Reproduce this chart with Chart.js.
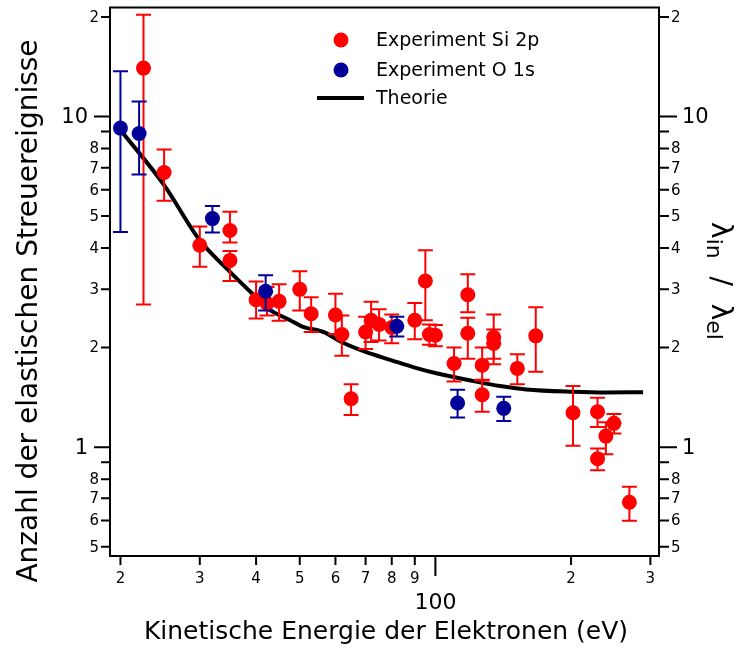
<!DOCTYPE html>
<html><head><meta charset="utf-8">
<script src="https://cdn.jsdelivr.net/npm/chart.js@4.4.1/dist/chart.umd.min.js"></script>
<style>html,body{margin:0;padding:0;background:#fff;} canvas{display:block;}</style>
</head><body>
<canvas id="c" width="740" height="648"></canvas>
<script>
// ---- Data ----
const siEnergy  = [22.5, 25, 30, 35, 35, 40, 42.3, 45, 50, 53, 60, 62, 65, 70, 72, 75, 80, 90, 95, 97, 100, 110, 118, 118, 127, 127, 134.7, 134.7, 152, 167, 202, 229, 229, 239, 249, 269.5];
const siValue   = [14.0, 6.77, 4.08, 4.52, 3.67, 2.79, 2.72, 2.76, 3.00, 2.53, 2.51, 2.19, 1.40, 2.23, 2.42, 2.35, 2.30, 2.42, 3.18, 2.19, 2.18, 1.79, 2.89, 2.21, 1.77, 1.44, 2.15, 2.06, 1.73, 2.17, 1.27, 1.28, 0.922, 1.08, 1.18, 0.681];
const siErrLow  = [2.70, 5.56, 3.51, 4.16, 3.18, 2.45, 2.50, 2.41, 2.59, 2.23, 2.20, 1.89, 1.25, 1.98, 2.08, 2.10, 2.06, 2.12, 2.42, 2.04, 2.02, 1.58, 2.56, 1.85, 1.59, 1.28, 1.85, 1.78, 1.55, 1.69, 1.01, 1.15, 0.852, 0.952, 1.10, 0.599];
const siErrHigh = [20.3, 7.95, 4.65, 5.15, 3.92, 3.17, 3.05, 3.11, 3.40, 2.84, 2.91, 2.50, 1.55, 2.48, 2.75, 2.61, 2.52, 2.73, 3.94, 2.35, 2.34, 2.00, 3.33, 2.46, 2.00, 1.60, 2.52, 2.27, 1.91, 2.65, 1.53, 1.41, 0.99, 1.19, 1.26, 0.759];

const oEnergy  = [20.0, 22.0, 32.0, 42.0, 82.1, 112, 141.8];
const oValue   = [9.22, 8.88, 4.91, 2.96, 2.32, 1.36, 1.31];
const oErrLow  = [4.47, 6.68, 4.46, 2.59, 2.16, 1.23, 1.20];
const oErrHigh = [13.7, 11.1, 5.36, 3.31, 2.48, 1.49, 1.42];

const theoryEnergy = [20, 25, 30, 35, 40, 42.6, 47.6, 50.5, 56.9, 61.4, 70, 80, 90, 101, 121, 139, 159, 202, 239, 289];
const theoryValue  = [9.1, 6.2, 4.22, 3.39, 2.84, 2.62, 2.42, 2.32, 2.22, 2.09, 1.94, 1.83, 1.74, 1.67, 1.586, 1.53, 1.494, 1.47, 1.463, 1.466];

const xTickValues = [20, 30, 40, 50, 60, 70, 80, 90, 100, 200, 300];
const xTickLabels = ['2', '3', '4', '5', '6', '7', '8', '9', '100', '2', '3'];
const xMajor = [100];
const yTickValues = [0.5, 0.6, 0.7, 0.8, 0.9, 1, 2, 3, 4, 5, 6, 7, 8, 9, 10, 20];
const yTickLabels = ['5', '6', '7', '8', '', '1', '2', '3', '4', '5', '6', '7', '8', '', '10', '2'];
const yMajor = [1, 10];

const legendLabels = ['Experiment Si 2p', 'Experiment O 1s', 'Theorie'];
const xTitle = 'Kinetische Energie der Elektronen (eV)';
const yTitle = 'Anzahl der elastischen Streuereignisse';

const FONT = '"DejaVu Sans", Verdana, sans-serif';
const RED = '#ff0000';
const BLUE = '#000099';

function pts(xs, ys) { return xs.map((x, i) => ({ x: x, y: ys[i] })); }

const errorBars = {
  id: 'errorBars',
  beforeDatasetDraw(chart, args) {
    const ds = chart.data.datasets[args.index];
    if (!ds.errLow) return;
    const ctx = chart.ctx, xs = chart.scales.x, ys = chart.scales.y;
    ctx.save();
    ctx.strokeStyle = ds.backgroundColor;
    ctx.lineWidth = 2;
    const cap = 7.5;
    ds.data.forEach((p, i) => {
      const px = xs.getPixelForValue(p.x);
      const y1 = ys.getPixelForValue(ds.errLow[i]);
      const y2 = ys.getPixelForValue(ds.errHigh[i]);
      ctx.beginPath();
      ctx.moveTo(px, y1); ctx.lineTo(px, y2);
      ctx.moveTo(px - cap, y1); ctx.lineTo(px + cap, y1);
      ctx.moveTo(px - cap, y2); ctx.lineTo(px + cap, y2);
      ctx.stroke();
    });
    ctx.restore();
  }
};

const axesDeco = {
  id: 'axesDeco',
  afterDraw(chart) {
    const ctx = chart.ctx, a = chart.chartArea, xs = chart.scales.x, ys = chart.scales.y;
    ctx.save();
    ctx.strokeStyle = '#000';
    ctx.fillStyle = '#000';
    ctx.lineWidth = 2;
    ctx.strokeRect(a.left, a.top, a.right - a.left, a.bottom - a.top);

    // Y ticks, both sides
    yTickValues.forEach((v, i) => {
      const py = ys.getPixelForValue(v);
      const major = yMajor.includes(v);
      const lenL = major ? 16 : 9, lenR = major ? 18 : 10;
      ctx.beginPath();
      ctx.moveTo(a.left - lenL, py); ctx.lineTo(a.left, py);
      ctx.moveTo(a.right, py); ctx.lineTo(a.right + lenR, py);
      ctx.stroke();
      const lab = yTickLabels[i];
      if (!lab) return;
      ctx.font = (major ? 21 : 15) + 'px ' + FONT;
      ctx.textBaseline = 'middle';
      ctx.textAlign = 'right';
      ctx.fillText(lab, a.left - lenL - (major ? 6 : 2), py + 1);
      ctx.textAlign = 'left';
      ctx.fillText(lab, a.right + lenR + (major ? 5 : 2), py + 1);
    });

    // X ticks
    xTickValues.forEach((v, i) => {
      const px = xs.getPixelForValue(v);
      const major = xMajor.includes(v);
      const len = major ? 20 : 9;
      ctx.beginPath();
      ctx.moveTo(px, a.bottom); ctx.lineTo(px, a.bottom + len);
      ctx.stroke();
      ctx.font = (major ? 22 : 15) + 'px ' + FONT;
      ctx.textAlign = 'center';
      ctx.textBaseline = 'middle';
      ctx.fillText(xTickLabels[i], px, major ? a.bottom + 47 : a.bottom + 23);
    });

    // Axis titles
    ctx.font = '25px ' + FONT;
    ctx.textAlign = 'center';
    ctx.textBaseline = 'middle';
    ctx.fillText(xTitle, 386, 632);

    ctx.save();
    ctx.translate(30, 311);
    ctx.rotate(-Math.PI / 2);
    ctx.font = '28px ' + FONT;
    ctx.fillText(yTitle, 0, 0);
    ctx.restore();

    // Right title: lambda_in / lambda_el (rotated clockwise)
    ctx.save();
    ctx.translate(722, 281);
    ctx.rotate(Math.PI / 2);
    const parts = [['λ', 28, 0], ['in', 22, 5], ['  /  ', 28, 0], ['λ', 28, 0], ['el', 22, 5]];
    let total = 0;
    parts.forEach(p => { ctx.font = p[1] + 'px ' + FONT; total += ctx.measureText(p[0]).width; });
    let cx = -total / 2;
    ctx.textAlign = 'left';
    ctx.textBaseline = 'alphabetic';
    parts.forEach(p => {
      ctx.font = p[1] + 'px ' + FONT;
      ctx.fillText(p[0], cx, 10 + p[2]);
      cx += ctx.measureText(p[0]).width;
    });
    ctx.restore();

    // Legend
    ctx.font = '19px ' + FONT;
    ctx.textAlign = 'left';
    ctx.textBaseline = 'middle';
    ctx.fillStyle = RED;
    ctx.beginPath(); ctx.arc(341, 40, 7.5, 0, Math.PI * 2); ctx.fill();
    ctx.fillStyle = BLUE;
    ctx.beginPath(); ctx.arc(341, 70, 7.5, 0, Math.PI * 2); ctx.fill();
    ctx.strokeStyle = '#000';
    ctx.lineWidth = 4;
    ctx.beginPath(); ctx.moveTo(317, 98); ctx.lineTo(364, 98); ctx.stroke();
    ctx.fillStyle = '#000';
    ctx.fillText(legendLabels[0], 376, 41);
    ctx.fillText(legendLabels[1], 376, 71);
    ctx.fillText(legendLabels[2], 376, 99);
    ctx.restore();
  }
};

new Chart(document.getElementById('c'), {
  type: 'scatter',
  data: {
    datasets: [
      { label: legendLabels[1], data: pts(oEnergy, oValue), errLow: oErrLow, errHigh: oErrHigh,
        backgroundColor: BLUE, borderColor: BLUE, pointRadius: 7.5, borderWidth: 0, order: 0 },
      { label: legendLabels[0], data: pts(siEnergy, siValue), errLow: siErrLow, errHigh: siErrHigh,
        backgroundColor: RED, borderColor: RED, pointRadius: 7.5, borderWidth: 0, order: 1 },
      { label: legendLabels[2], data: pts(theoryEnergy, theoryValue), showLine: true,
        borderColor: '#000', backgroundColor: '#000', borderWidth: 4, pointRadius: 0,
        cubicInterpolationMode: 'monotone', order: 2 }
    ]
  },
  options: {
    responsive: false,
    animation: false,
    devicePixelRatio: 1,
    layout: { padding: { left: 110, right: 81, top: 7, bottom: 92 } },
    plugins: { legend: { display: false }, tooltip: { enabled: false } },
    scales: {
      x: { type: 'logarithmic', min: 18.96, max: 313.5, display: false },
      y: { type: 'logarithmic', min: 0.4686, max: 21.35, display: false }
    }
  },
  plugins: [errorBars, axesDeco]
});
</script>
</body></html>
